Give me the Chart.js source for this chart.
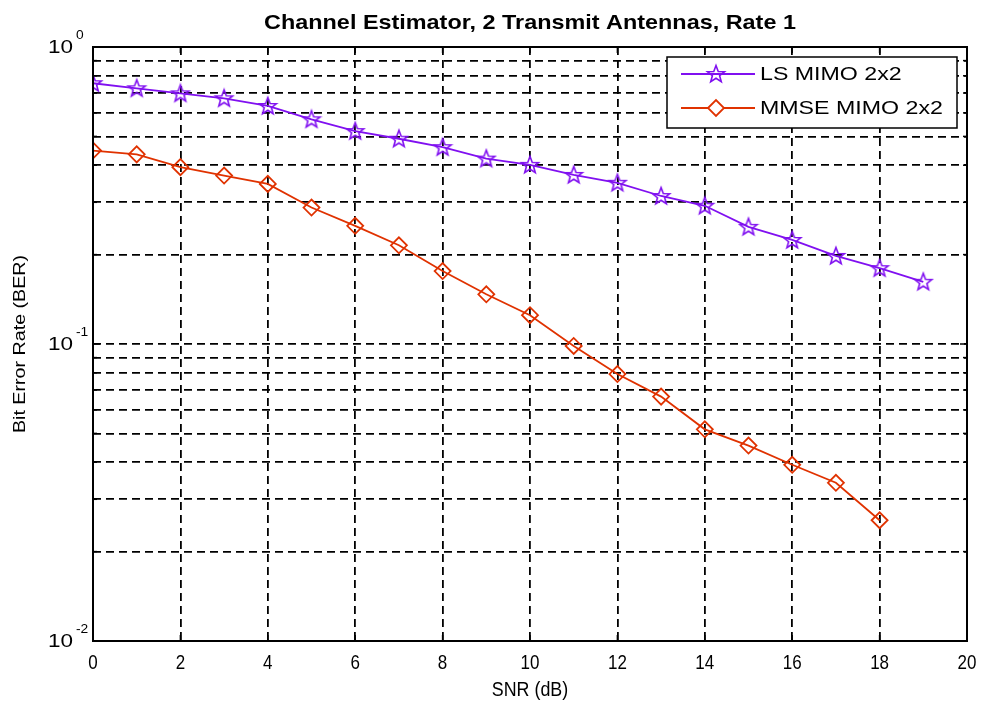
<!DOCTYPE html>
<html>
<head>
<meta charset="utf-8">
<script src="https://cdn.jsdelivr.net/npm/chart.js@4/dist/chart.umd.min.js"></script>
<style>
html, body { margin: 0; padding: 0; background: #fff; }
#wrap { width: 981px; height: 702px; }
</style>
</head>
<body>
<div id="wrap"><canvas id="berChart" width="981" height="702"></canvas></div>
<script>
'use strict';

/**
 * data
 */

const snrLs = [0, 1, 2, 3, 4, 5, 6, 7, 8, 9, 10, 11, 12, 13, 14, 15, 16, 17, 18, 19];
const lsBer = [0.755, 0.726, 0.698, 0.672, 0.633, 0.571, 0.521, 0.491, 0.460, 0.421,
  0.401, 0.371, 0.349, 0.315, 0.292, 0.248, 0.224, 0.198, 0.180, 0.162];

const snrMmse = [0, 1, 2, 3, 4, 5, 6, 7, 8, 9, 10, 11, 12, 13, 14, 15, 16, 17, 18];
const mmseBer = [0.448, 0.435, 0.394, 0.369, 0.346, 0.288, 0.250, 0.215, 0.176, 0.147,
  0.125, 0.0985, 0.0792, 0.0665, 0.0516, 0.0455, 0.0392, 0.0341, 0.0255];

const xTicks = [0, 2, 4, 6, 8, 10, 12, 14, 16, 18, 20];
const yGrid = [0.01, 0.02, 0.03, 0.04, 0.05, 0.06, 0.07, 0.08, 0.09,
  0.1, 0.2, 0.3, 0.4, 0.5, 0.6, 0.7, 0.8, 0.9, 1];
const yLabelValues = [1, 0.1, 0.01];
const yLabelExps = ['0', '-1', '-2'];

const chartTitle = 'Channel Estimator, 2 Transmit Antennas, Rate 1';
const xTitle = 'SNR (dB)';
const yTitle = 'Bit Error Rate (BER)';
const seriesNames = ['LS MIMO 2x2', 'MMSE MIMO 2x2'];
const lsColor = '#8010f0';
const mmseColor = '#e03200';
const fontFamily = '"Liberation Sans", Arial, sans-serif';

/**
 * markers
 */

const makeStar = function (color) {
  const c = document.createElement('canvas');
  c.width = 22; c.height = 22;
  const g = c.getContext('2d');
  g.strokeStyle = color;
  g.lineWidth = 1.6;
  g.beginPath();
  for (let i = 0; i < 10; i++) {
    const r = i % 2 === 0 ? 9 : 3.8;
    const a = -Math.PI / 2 + i * Math.PI / 5;
    const px = 11 + r * Math.cos(a);
    const py = 11.5 + r * Math.sin(a);
    if (i === 0) g.moveTo(px, py); else g.lineTo(px, py);
  }
  g.closePath();
  g.stroke();
  return c;
};

const starImg = makeStar(lsColor);

// text is stretched a bit in the original figure
const drawText = function (ctx, text, x, y, font, sx, sy, align, rot) {
  ctx.save();
  ctx.translate(x, y);
  if (rot) ctx.rotate(rot);
  ctx.scale(sx, sy);
  ctx.font = font;
  ctx.fillStyle = '#000';
  ctx.textAlign = align;
  ctx.textBaseline = 'middle';
  ctx.fillText(text, 0, 0);
  ctx.restore();
};

/**
 * frame, ticks, labels and legend
 */

const framePlugin = {
  id: 'frame',
  afterDraw(chart) {
    const { ctx, chartArea: a, scales: { x, y } } = chart;
    ctx.save();
    ctx.strokeStyle = '#000';
    ctx.lineWidth = 1.5;

    const seg = function (x1, y1, x2, y2) {
      ctx.beginPath(); ctx.moveTo(x1, y1); ctx.lineTo(x2, y2); ctx.stroke();
    };

    xTicks.forEach(function (v) {
      const px = x.getPixelForValue(v);
      seg(px, a.bottom, px, a.bottom - 6);
      seg(px, a.top, px, a.top + 6);
      drawText(ctx, String(v), px, a.bottom + 22, '17px ' + fontFamily, 1, 1.23, 'center');
    });
    yGrid.forEach(function (v) {
      const py = y.getPixelForValue(v);
      const len = yLabelValues.includes(v) ? 7 : 4;
      seg(a.left, py, a.left + len, py);
      seg(a.right, py, a.right - len, py);
    });

    ctx.lineWidth = 2;
    ctx.strokeRect(a.left, a.top, a.width, a.height);

    // y tick labels 10^n
    yLabelValues.forEach(function (v, i) {
      const py = y.getPixelForValue(v);
      drawText(ctx, '10', 73, py + 1, '18px ' + fontFamily, 1.25, 1, 'right');
      drawText(ctx, yLabelExps[i], 76, py - 11, '12px ' + fontFamily, 1.15, 1, 'left');
    });

    // titles
    const cx = (a.left + a.right) / 2;
    const cy = (a.top + a.bottom) / 2;
    drawText(ctx, chartTitle, cx, 23, 'bold 20px ' + fontFamily, 1.17, 1.02, 'center');
    drawText(ctx, xTitle, cx, 690, '17px ' + fontFamily, 1.05, 1.2, 'center');
    drawText(ctx, yTitle, 20, cy, '16px ' + fontFamily, 1.23, 1.05, 'center', -Math.PI / 2);

    // legend
    const lx = 667, ly = 57, lw = 290, lh = 71;
    ctx.fillStyle = '#fff';
    ctx.fillRect(lx, ly, lw, lh);
    ctx.lineWidth = 1.5;
    ctx.strokeStyle = '#000';
    ctx.strokeRect(lx, ly, lw, lh);

    const rows = [
      { color: lsColor, y: 74 },
      { color: mmseColor, y: 108 }
    ];
    rows.forEach(function (r, i) {
      ctx.strokeStyle = r.color;
      ctx.lineWidth = 1.8;
      seg(681, r.y, 755, r.y);
      if (i === 0) {
        ctx.drawImage(starImg, 716 - 11, r.y - 11);
      } else {
        ctx.fillStyle = '#fff';
        Chart.helpers.drawPoint(ctx, {
          pointStyle: 'rectRot', radius: 8, borderWidth: 1.8
        }, 716, r.y);
      }
      drawText(ctx, seriesNames[i], 760, r.y + 1, '19px ' + fontFamily, 1.22, 1, 'left');
    });

    ctx.restore();
  }
};

/**
 * chart
 */

const toPoints = function (xs, ys) {
  return xs.map(function (v, i) { return { x: v, y: ys[i] }; });
};

new Chart(document.getElementById('berChart'), {
  type: 'line',
  data: {
    datasets: [{
      label: seriesNames[0],
      data: toPoints(snrLs, lsBer),
      borderColor: lsColor,
      borderWidth: 1.8,
      pointStyle: starImg,
      pointRadius: 9,
      pointHoverRadius: 9,
      tension: 0
    }, {
      label: seriesNames[1],
      data: toPoints(snrMmse, mmseBer),
      borderColor: mmseColor,
      backgroundColor: 'rgba(255,255,255,0)',
      borderWidth: 1.8,
      pointStyle: 'rectRot',
      pointRadius: 8,
      pointHoverRadius: 8,
      pointBorderWidth: 1.8,
      pointBorderColor: mmseColor,
      pointBackgroundColor: 'rgba(255,255,255,0)',
      tension: 0
    }]
  },
  options: {
    responsive: false,
    animation: false,
    devicePixelRatio: 1,
    layout: { padding: { left: 0, right: 14, top: 47, bottom: 0 } },
    plugins: {
      legend: { display: false },
      tooltip: { enabled: false },
      title: { display: false }
    },
    scales: {
      x: {
        type: 'linear',
        min: 0,
        max: 20,
        afterBuildTicks: function (s) { s.ticks = xTicks.map(function (v) { return { value: v }; }); },
        afterFit: function (s) { s.height = 61; s.paddingRight = 0; s.paddingLeft = 0; },
        ticks: {
          callback: function () { return ''; }
        },
        grid: { color: '#000', lineWidth: 1.8, drawTicks: false },
        border: { display: false, dash: [8, 5] }
      },
      y: {
        type: 'logarithmic',
        min: 0.01,
        max: 1,
        afterBuildTicks: function (s) { s.ticks = yGrid.map(function (v) { return { value: v }; }); },
        afterFit: function (s) { s.width = 93; s.paddingTop = 0; s.paddingBottom = 0; },
        ticks: {
          callback: function () { return ''; }
        },
        grid: { color: '#000', lineWidth: 1.8, drawTicks: false },
        border: { display: false, dash: [8, 5] }
      }
    }
  },
  plugins: [framePlugin]
});
</script>
</body>
</html>
